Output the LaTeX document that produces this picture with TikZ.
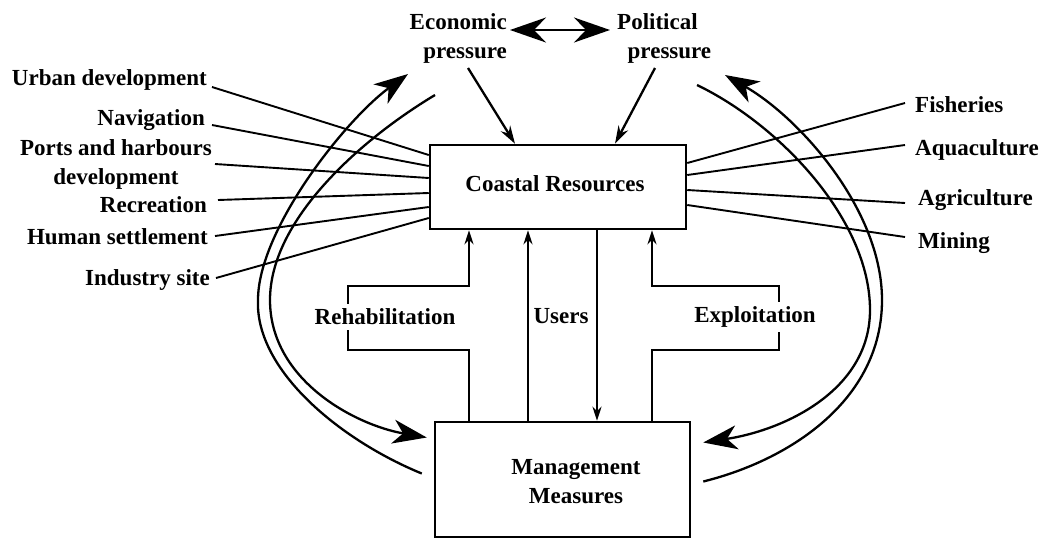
\documentclass[tikz,border=0pt]{standalone}
\usepackage{fontspec}
\setmainfont{Liberation Serif}
\usetikzlibrary{arrows.meta,calc}
\begin{document}
\begin{tikzpicture}[x=1pt,y=-1pt,
  every node/.style={font=\bfseries\fontsize{23}{29}\selectfont, inner sep=0pt},
  ln/.style={line width=1.9pt},
  thk/.style={line width=2.3pt},
  boxst/.style={draw, line width=2.5pt, inner sep=0pt},
  sm/.style={-{Stealth[length=14pt,width=9pt]}},
  med/.style={-{Stealth[length=18pt,width=11pt]}},
  big/.style={-{Stealth[length=34pt,width=24pt,inset=10pt]}},
  dbl/.style={{Stealth[length=36pt,width=25pt,inset=12pt]}-{Stealth[length=36pt,width=25pt,inset=12pt]}}
]
\useasboundingbox (0,0) rectangle (1039,539);

% boxes
\node[boxst, minimum width=256pt, minimum height=84pt] (cr) at (558,187) {};
\node (crt) at (555,184) {Coastal Resources};
\node[boxst, minimum width=255pt, minimum height=115pt] (mm) at (562.5,479.5) {};
\node[align=center] (mmt) at (576,482) {Management\\Measures};

% top pressures
\node[align=right, anchor=east] (eco) at (507,38) {Economic\\pressure};
\node[align=center, anchor=west] (pol) at (617,38) {Political\hspace*{24pt}\\pressure};
\draw[thk, dbl] ([xshift=3pt,yshift=8pt]eco.east) -- ([xshift=-7pt,yshift=8pt]pol.west);
\coordinate (ea) at (468,68);
\coordinate (pa) at (655,68);
\draw[thk, med] (ea) -- ([xshift=-43pt]cr.north);
\draw[thk, med] (pa) -- ([xshift=57pt]cr.north);

% left labels
\node[anchor=east] (urb) at (207,80) {Urban development};
\node[anchor=east] (nav) at (205,120) {Navigation};
\node[anchor=east, align=center] (prt) at (212,164) {Ports and harbours\\development};
\node[anchor=east] (rec) at (207,205) {Recreation};
\node[anchor=east] (hum) at (208,237) {Human settlement};
\node[anchor=east] (ind) at (210,280) {Industry site};

\draw[ln] ([xshift=5pt,yshift=-7pt]urb.east) -- ([yshift=32pt]cr.west);
\draw[ln] ([xshift=7pt,yshift=-5pt]nav.east) -- ([yshift=21pt]cr.west);
\draw[ln] ([xshift=3pt]prt.east) -- ([yshift=9pt]cr.west);
\draw[ln] ([xshift=11pt,yshift=5pt]rec.east) -- ([yshift=-6pt]cr.west);
\draw[ln] ([xshift=7pt,yshift=1pt]hum.east) -- ([yshift=-20pt]cr.west);
\draw[ln] ([xshift=6pt,yshift=2pt]ind.east) -- ([yshift=-31pt]cr.west);

% right labels
\node[anchor=west] (fsh) at (915,105) {Fisheries};
\node[anchor=west] (aqu) at (915,150) {Aquaculture};
\node[anchor=west] (agr) at (918,200) {Agriculture};
\node[anchor=west] (min) at (918,243) {Mining};

\draw[ln] ([yshift=24pt]cr.east) -- ([xshift=-10pt,yshift=2pt]fsh.west);
\draw[ln] ([yshift=12pt]cr.east) -- ([xshift=-10pt,yshift=5pt]aqu.west);
\draw[ln] ([yshift=-3pt]cr.east) -- ([xshift=-13pt,yshift=-3pt]agr.west);
\draw[ln] ([yshift=-18pt]cr.east) -- ([xshift=-13pt,yshift=6pt]min.west);

% vertical connectors
\coordinate (rx) at (469,0);
\coordinate (u1) at (528,0);
\coordinate (u2) at (597,0);
\coordinate (ex) at (652,0);
\draw[thk, sm] (rx |- mm.north) |- (348,350) -- (348,286) -| (rx |- cr.south);
\draw[thk, sm] (ex |- mm.north) |- (779,350) -- (779,286) -| (ex |- cr.south);
\draw[thk, sm] (u1 |- mm.north) -- (u1 |- cr.south);
\draw[thk, sm] (u2 |- cr.south) -- (u2 |- mm.north);
\node[fill=white, inner xsep=3pt, inner ysep=5pt] (reh) at (385,317) {Rehabilitation};
\node[fill=white, inner xsep=3pt, inner ysep=5pt] (exp) at (755,317) {Exploitation};
\node (usr) at (561,316) {Users};

% feedback curves
\coordinate (lo) at (408,74);
\coordinate (li) at (435,95);
\coordinate (ro) at (725,75);
\coordinate (ri) at (697,85);
\draw[thk, big] ([xshift=-12pt,yshift=6pt]mm.west)
  .. controls (340,440) and (255,370) .. (258,300)
  .. controls (258,230) and (345,120) .. (lo);
\draw[thk, big] (li)
  .. controls (360,140) and (270,220) .. (270,300)
  .. controls (270,380) and (355,425) .. ([xshift=-7pt,yshift=42pt]mm.west);
\draw[thk, big] ([xshift=12pt,yshift=-2pt]mm.east)
  .. controls (790,460) and (882,400) .. (882,300)
  .. controls (882,210) and (800,118) .. (ro);
\draw[thk, big] (ri)
  .. controls (780,125) and (870,220) .. (870,310)
  .. controls (870,390) and (785,430) .. ([xshift=12pt,yshift=37pt]mm.east);
\end{tikzpicture}
\end{document}
